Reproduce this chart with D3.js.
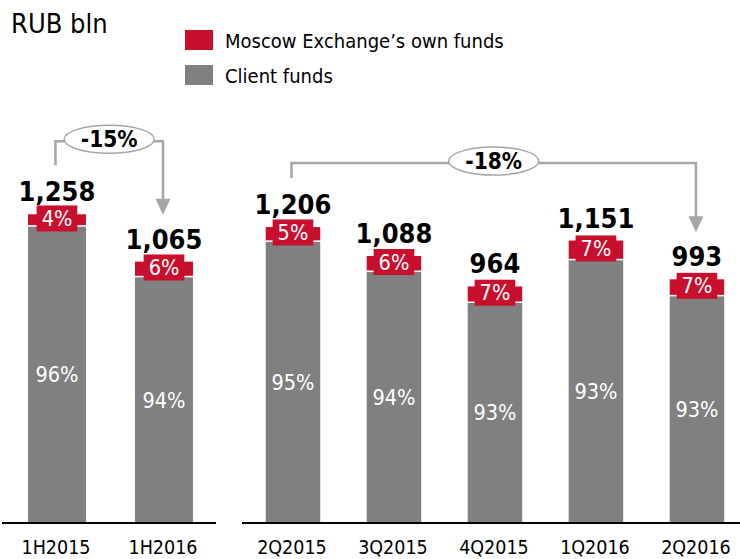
<!DOCTYPE html>
<html>
<head>
<meta charset="utf-8">
<script src="https://cdn.jsdelivr.net/npm/d3@7/dist/d3.min.js"></script>
<style>
  body { margin: 0; background: #fff; }
  svg { display: block; }
  text { font-family: "DejaVu Sans Condensed", "DejaVu Sans", sans-serif; }
</style>
</head>
<body>
<svg id="chart" width="740" height="559"></svg>
<script>
// ---- data ----
const leftCategories = ["1H2015", "1H2016"];
const leftTotals = [1258, 1065];
const leftOwnPct = [4, 6];
const leftClientPct = [96, 94];

const rightCategories = ["2Q2015", "3Q2015", "4Q2015", "1Q2016", "2Q2016"];
const rightTotals = [1206, 1088, 964, 1151, 993];
const rightOwnPct = [5, 6, 7, 7, 7];
const rightClientPct = [95, 94, 93, 93, 93];

const seriesNames = ["Moscow Exchange\u2019s own funds", "Client funds"];
const unitLabel = "RUB bln";
const annotations = [
  { group: "left", from: "1H2015", to: "1H2016", label: "-15%" },
  { group: "right", from: "2Q2015", to: "2Q2016", label: "-18%" }
];

// ---- styles ----
const RED = "#C8102E", GRAY = "#808080", LINE = "#A6A6A6";
const svg = d3.select("#chart");
const baseY = 523;

const y = d3.scaleLinear().domain([0, 1300]).range([baseY, baseY - 1300 * 0.2454]);

const groups = {
  left: {
    cats: leftCategories, totals: leftTotals, own: leftOwnPct, client: leftClientPct,
    x: d3.scaleBand().domain(leftCategories).range([2, 216]).paddingInner(0.458).paddingOuter(0.229).align(0.53)
  },
  right: {
    cats: rightCategories, totals: rightTotals, own: rightOwnPct, client: rightClientPct,
    x: d3.scaleBand().domain(rightCategories).range([242, 740]).paddingInner(0.46).paddingOuter(0.1955).align(0.6)
  }
};

Object.values(groups).forEach(g => {
  const data = g.cats.map((c, i) => {
    const own = g.totals[i] * g.own[i] / 100;
    return { cat: c, total: g.totals[i], own, client: g.totals[i] - own, ownPct: g.own[i], clientPct: g.client[i] };
  });
  const x = g.x, bw = x.bandwidth();
  const gg = svg.append("g");

  // client (gray) segment
  gg.selectAll("rect.client").data(data).join("rect")
    .attr("x", d => x(d.cat)).attr("width", bw)
    .attr("y", d => y(d.client)).attr("height", d => y(0) - y(d.client))
    .attr("fill", GRAY);
  // own (red) segment
  gg.selectAll("rect.own").data(data).join("rect")
    .attr("x", d => x(d.cat)).attr("width", bw)
    .attr("y", d => y(d.total)).attr("height", d => y(d.client) - y(d.total) - 1.5)
    .attr("fill", RED);

  // red label boxes
  gg.selectAll("g.ownlab").data(data).join("g")
    .each(function(d) {
      const cx = x(d.cat) + bw / 2;
      const cy = (y(d.total) + y(d.client)) / 2 - 2;
      const t = d3.select(this).append("text")
        .attr("x", cx).attr("y", cy + 7.5)
        .attr("text-anchor", "middle").attr("font-size", 21.5).attr("fill", "#fff")
        .text(d.ownPct + "%");
      const w = t.node().getComputedTextLength();
      d3.select(this).insert("rect", "text")
        .attr("x", cx - w / 2 - 5).attr("width", w + 10)
        .attr("y", cy - 13).attr("height", 26).attr("fill", RED);
    });

  // client pct labels
  gg.selectAll("text.cl").data(data).join("text")
    .attr("x", d => x(d.cat) + bw / 2)
    .attr("y", d => (y(d.client) + y(0)) / 2 + 7.5)
    .attr("text-anchor", "middle").attr("font-size", 21.5).attr("fill", "#fff")
    .text(d => d.clientPct + "%");

  // totals
  gg.selectAll("text.tot").data(data).join("text")
    .attr("x", d => x(d.cat) + bw / 2)
    .attr("y", d => y(d.total) - 13)
    .attr("text-anchor", "middle").attr("font-size", 27).attr("font-weight", "bold").attr("fill", "#000")
    .text(d => d3.format(",")(d.total));

  // baseline
  const r = x.range();
  gg.append("line").attr("x1", r[0]).attr("x2", r[1]).attr("y1", baseY).attr("y2", baseY)
    .attr("stroke", "#000").attr("stroke-width", 2);

  // category labels
  gg.selectAll("text.cat").data(data).join("text")
    .attr("x", d => x(d.cat) + bw / 2 - 1)
    .attr("y", baseY + 31)
    .attr("text-anchor", "middle").attr("font-size", 19.5).attr("fill", "#000")
    .text(d => d.cat);

  g.data = data;
});

// ---- annotations ----
annotations.forEach(a => {
  const g = groups[a.group];
  const i0 = g.cats.indexOf(a.from), i1 = g.cats.indexOf(a.to);
  const x0 = g.x(a.from) + g.x.bandwidth() / 2 - 1.5;
  const x1 = g.x(a.to) + g.x.bandwidth() / 2 - 1;
  const top0 = y(g.totals[i0]), top1 = y(g.totals[i1]);
  const lineY = a.group === "left" ? top0 - 73 : top0 - 64;
  const startY = top0 - 49;
  const tipY = top1 - 47;
  const A = svg.append("g");
  A.append("path")
    .attr("d", `M${x0},${startY} V${lineY} H${x1} V${tipY - 14}`)
    .attr("fill", "none").attr("stroke", LINE).attr("stroke-width", 2.5);
  A.append("path")
    .attr("d", `M${x1 - 7.5},${tipY - 16} L${x1 + 7.5},${tipY - 16} L${x1},${tipY} Z`)
    .attr("fill", LINE);
  const cx = (x0 + x1) / 2;
  A.append("ellipse").attr("cx", cx).attr("cy", lineY - 2).attr("rx", 45).attr("ry", 14)
    .attr("fill", "#fff").attr("stroke", LINE).attr("stroke-width", 1.5);
  A.append("text").attr("x", cx).attr("y", lineY + 6)
    .attr("text-anchor", "middle").attr("font-size", 22.5).attr("font-weight", "bold").attr("fill", "#000")
    .text(a.label);
});

// ---- title & legend ----
svg.append("text").attr("x", 11).attr("y", 33).attr("font-size", 27).attr("fill", "#000").text(unitLabel);
const legColors = [RED, GRAY];
const leg = svg.append("g");
seriesNames.forEach((n, i) => {
  leg.append("rect").attr("x", 185).attr("y", 30 + i * 35).attr("width", 28).attr("height", 20).attr("fill", legColors[i]);
  leg.append("text").attr("x", 225).attr("y", 48 + i * 35).attr("font-size", 20).attr("fill", "#000").text(n);
});
</script>
</body>
</html>
